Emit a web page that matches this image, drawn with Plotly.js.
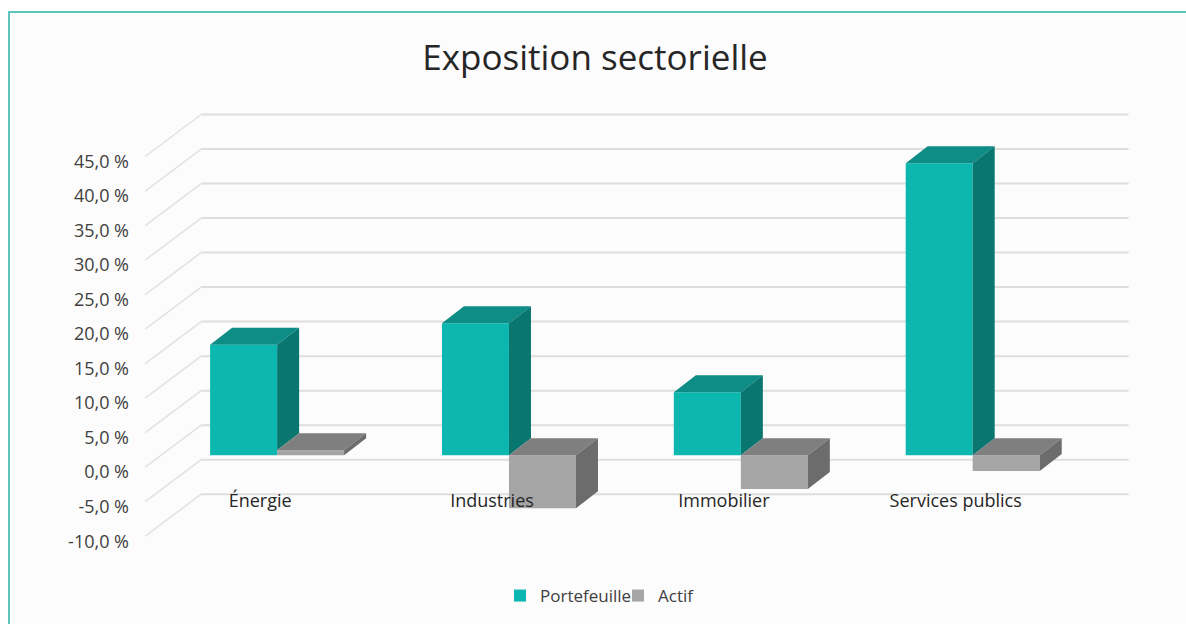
<!DOCTYPE html>
<html>
<head>
<meta charset="utf-8">
<script src="https://cdn.plot.ly/plotly-3.0.1.min.js"></script>
<style>html,body{margin:0;padding:0;background:#fff;}#chart{width:1186px;height:624px;}</style>
</head>
<body>
<div id="chart"></div>
<script>
// ---- data ----
const categories = ['Énergie', 'Industries', 'Immobilier', 'Services publics'];
const portefeuille = [16.0, 19.1, 9.1, 42.3];
const actif = [0.7, -7.7, -4.9, -2.3];
const yTickVals = [-10, -5, 0, 5, 10, 15, 20, 25, 30, 35, 40, 45];
const yTickText = ['-10,0 %', '-5,0 %', '0,0 %', '5,0 %', '10,0 %', '15,0 %', '20,0 %', '25,0 %', '30,0 %', '35,0 %', '40,0 %', '45,0 %'];
const seriesNames = ['Portefeuille', 'Actif'];

// ---- layout geometry / styles ----
const W = 1186, H = 624;
const plotL = 138, plotR = 1135, plotT = 110, plotB = 538;
const xRange = [-0.6, 3.7];
const yRange = [-12, 50];
const pxX = (plotR - plotL) / (xRange[1] - xRange[0]);
const pxY = (plotB - plotT) / (yRange[1] - yRange[0]);
const bargap = 0.422;
const barW = (1 - bargap) / 2;
const depth = {dx: 22 / pxX, dy: 17 / pxY};
const backOff = {dx: 40 / pxX, dy: 30 / pxY};
const frontOff = {dx: -16 / pxX, dy: -12 / pxY};
const colors = {
  front: ['#0bb7af', '#a5a5a5'],
  top: ['#0e8c86', '#7f7f7f'],
  side: ['#0a7670', '#6c6c6c']
};
const font = '"Open Sans", "Noto Sans", sans-serif';

// ---- 3D faces computed from the data ----
const series = [portefeuille, actif];
function faces(s) {
  const tx = [], ty = [], sx = [], sy = [];
  const vals = series[s];
  vals.forEach((v, i) => {
    const x0 = i + (s === 0 ? -barW : 0);
    const x1 = x0 + barW;
    const top = Math.max(v, 0), bot = Math.min(v, 0);
    tx.push(x0, x1, x1 + depth.dx, x0 + depth.dx, x0, null);
    ty.push(top, top, top + depth.dy, top + depth.dy, top, null);
    let lo = bot;
    if (s === 0) {
      const nTop = Math.max(series[1][i], 0);
      lo = Math.min(Math.max(bot, nTop), top);
    }
    sx.push(x1, x1, x1 + depth.dx, x1 + depth.dx, x1, null);
    sy.push(lo, top, top + depth.dy, lo + depth.dy, lo, null);
  });
  return [
    {type: 'scatter', mode: 'lines', x: tx, y: ty, fill: 'toself', fillcolor: colors.top[s],
     line: {width: 0, color: colors.top[s]}, showlegend: false, hoverinfo: 'skip'},
    {type: 'scatter', mode: 'lines', x: sx, y: sy, fill: 'toself', fillcolor: colors.side[s],
     line: {width: 0, color: colors.side[s]}, showlegend: false, hoverinfo: 'skip'}
  ];
}

const traces = [
  {type: 'bar', name: seriesNames[0], x: [0, 1, 2, 3], y: portefeuille,
   marker: {color: colors.front[0], line: {width: 0}}, hoverinfo: 'skip'},
  {type: 'bar', name: seriesNames[1], x: [0, 1, 2, 3], y: actif,
   marker: {color: colors.front[1], line: {width: 0}}, hoverinfo: 'skip'},
  ...faces(0),
  ...faces(1)
];

// ---- wall gridlines from tick values ----
const shapes = [
  {type: 'rect', xref: 'paper', yref: 'paper', layer: 'below',
   x0: 9 / W, x1: 1.05, y0: -0.05, y1: 1 - 12 / H,
   fillcolor: '#fcfcfc', line: {color: '#5cc6be', width: 2}}
];
yTickVals.forEach(v => {
  shapes.push({type: 'line', xref: 'x', yref: 'y', layer: 'below',
    x0: -0.5 + backOff.dx, x1: 3.5 + backOff.dx, y0: v + backOff.dy, y1: v + backOff.dy,
    line: {color: '#dedede', width: 2}});
  shapes.push({type: 'line', xref: 'x', yref: 'y', layer: 'below',
    x0: -0.5 + frontOff.dx, x1: -0.5 + backOff.dx, y0: v + frontOff.dy, y1: v + backOff.dy,
    line: {color: '#e2e2e2', width: 1.5}});
});

const layout = {
  width: W, height: H,
  margin: {l: 0, r: 0, t: 0, b: 0},
  paper_bgcolor: '#ffffff',
  plot_bgcolor: 'rgba(0,0,0,0)',
  font: {family: font, color: '#404040', size: 17},
  title: {text: 'Exposition sectorielle', x: 595 / W, xanchor: 'center', y: 1 - 58 / H, yanchor: 'middle',
          font: {family: font, size: 35, color: '#262626'}},
  barmode: 'group', bargap: bargap, bargroupgap: 0,
  hovermode: false,
  showlegend: true,
  legend: {orientation: 'h', x: 500 / W, xanchor: 'left', y: 1 - 596 / H, yanchor: 'middle',
           font: {family: font, size: 17, color: '#404040'}, bgcolor: 'rgba(0,0,0,0)', itemwidth: 30,
           entrywidth: 73, entrywidthmode: 'pixels'},
  xaxis: {domain: [plotL / W, plotR / W], range: xRange, type: 'linear',
          tickvals: [0, 1, 2, 3], ticktext: categories, showgrid: false, zeroline: false,
          showline: false, ticks: '', anchor: 'free', position: 1 - 488 / H,
          ticklabelshift: -17, tickfont: {family: font, size: 18, color: '#262626'}},
  yaxis: {domain: [1 - plotB / H, 1 - plotT / H], range: yRange,
          tickvals: yTickVals, ticktext: yTickText, showgrid: false, zeroline: false,
          showline: false, ticks: '', ticklabelshift: 17, ticklabelstandoff: 8,
          tickfont: {family: font, size: 18, color: '#404040'}},
  shapes: shapes
};

Plotly.newPlot('chart', traces, layout, {staticPlot: true, displayModeBar: false});
</script>
</body>
</html>
